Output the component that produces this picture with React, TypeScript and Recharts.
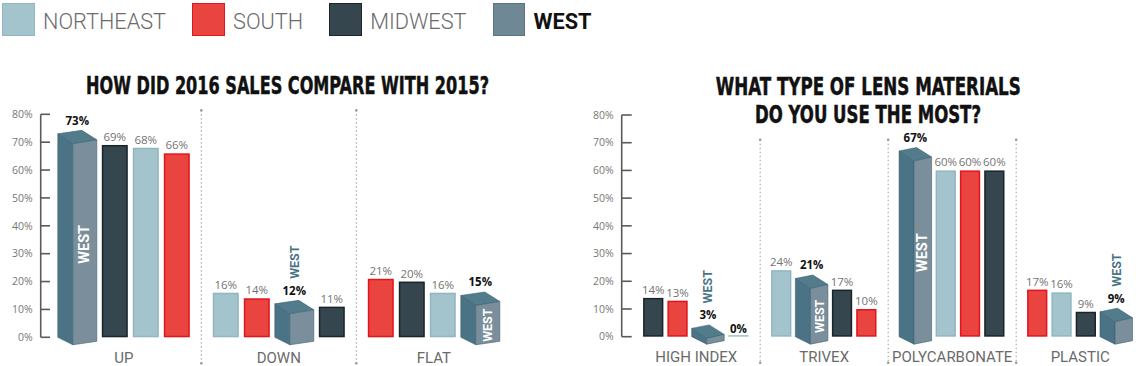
import React from 'react';
import { BarChart, Bar, XAxis, YAxis } from 'recharts';

// ---------- data ----------
const REGIONS = ['NORTHEAST', 'SOUTH', 'MIDWEST', 'WEST'];

const salesCategories = ['UP', 'DOWN', 'FLAT'];
const salesNortheast = [68, 16, 16];
const salesSouth = [66, 14, 21];
const salesMidwest = [69, 11, 20];
const salesWest = [73, 12, 15];

const lensCategories = ['HIGH INDEX', 'TRIVEX', 'POLYCARBONATE', 'PLASTIC'];
const lensNortheast = [0, 24, 60, 16];
const lensSouth = [13, 10, 60, 17];
const lensMidwest = [14, 17, 60, 9];
const lensWest = [3, 21, 67, 9];

const yTicks = [0, 10, 20, 30, 40, 50, 60, 70, 80];

const salesTitle = ['HOW DID 2016 SALES COMPARE WITH 2015?'];
const lensTitle = ['WHAT TYPE OF LENS MATERIALS', 'DO YOU USE THE MOST?'];

// ---------- styles ----------
const COLORS: Record<string, { fill: string; stroke: string }> = {
  NORTHEAST: { fill: '#a3c4cc', stroke: '#90b6bf' },
  SOUTH: { fill: '#e9443f', stroke: '#e2141c' },
  MIDWEST: { fill: '#35464f', stroke: '#1a2429' },
  WEST: { fill: '#6f8896', stroke: '#5b7482' },
};
const BOX = { side: '#4a7385', top: '#527c8c', front: '#7a8f9b', edge: '#3c6070' };
const LABEL_FONT = "'Open Sans', 'DejaVu Sans', sans-serif";
const CAT_FONT = "Roboto, 'Noto Sans', sans-serif";
const TITLE_FONT = "'Liberation Sans Narrow', 'DejaVu Sans Condensed', Roboto, sans-serif";

type Row = Record<string, any>;

function buildRows(categories: string[], series: number[][]): Row[] {
  return categories.map((cat, i) => {
    const entries = REGIONS.map((region, k) => ({ region, value: series[k][i], k }));
    entries.sort((a, b) => b.value - a.value || a.k - b.k);
    const row: Row = { cat };
    entries.forEach((e, s) => {
      row['s' + s] = e.value;
      row['r' + s] = e.region;
      if (e.region === 'WEST') row.westSlot = s;
    });
    return row;
  });
}

const salesRows = buildRows(salesCategories, [salesNortheast, salesSouth, salesMidwest, salesWest]);
const lensRows = buildRows(lensCategories, [lensNortheast, lensSouth, lensMidwest, lensWest]);

type Cfg = { extra: number; sideW: number };

function makeShape(rows: Row[], slot: number, cfg: Cfg) {
  return (props: any) => {
    const { x, y, width, height } = props;
    let index = props.index;
    if (index == null || rows[index] == null) index = rows.findIndex((r) => r.cat === props.payload?.cat);
    const row = rows[index];
    if (!row) return <g />;
    const region = row['r' + slot];
    const value = row['s' + slot];
    const y0 = y + height;
    const yv = y;
    const half = cfg.extra / 2;
    if (region === 'WEST') {
      const L = x - half;
      const R = x + width + half;
      const xf = L + cfg.sideW;
      const bx = L + (R - xf);
      const pts = (arr: number[][]) => arr.map((p) => p.join(',')).join(' ');
      const A = [L, yv], B = [bx, yv - 3.5], C = [R, yv + 6], D = [xf, yv + 10];
      const E = [xf, y0 + 7.5], F = [R, y0 + 4], G = [L, y0];
      const cx = (L + R) / 2;
      const labelY = yv - 9;
      const inside = value >= 15;
      const fcx = (xf + R) / 2;
      const fcy = (D[1] + E[1]) / 2;
      const westSize = value > 50 ? 14.5 : 12.5;
      return (
        <g>
          <polygon points={pts([A, D, E, G])} fill={BOX.side} stroke={BOX.edge} strokeWidth={0.6} />
          <polygon points={pts([A, B, C, D])} fill={BOX.top} stroke={BOX.edge} strokeWidth={0.6} />
          <polygon points={pts([D, C, F, E])} fill={BOX.front} stroke={BOX.edge} strokeWidth={0.6} />
          <text x={cx} y={labelY} textAnchor="middle" fontFamily={LABEL_FONT} fontWeight={700} fontSize={11.5} fill="#111">
            {value + '%'}
          </text>
          {inside ? (
            <text
              x={fcx}
              y={fcy}
              transform={`rotate(-90 ${fcx} ${fcy})`}
              textAnchor="middle"
              dominantBaseline="central"
              fontFamily={CAT_FONT}
              fontWeight={700}
              fontSize={westSize}
              fill="#ffffff"
            >
              WEST
            </text>
          ) : (
            <text
              x={cx}
              y={labelY - 16}
              transform={`rotate(-90 ${cx} ${labelY - 16})`}
              textAnchor="start"
              dominantBaseline="central"
              fontFamily={CAT_FONT}
              fontWeight={700}
              fontSize={12.5}
              fill={BOX.side}
            >
              WEST
            </text>
          )}
        </g>
      );
    }
    const shift = slot < row.westSlot ? -half : half;
    const bx = x + shift;
    const c = COLORS[region];
    const bold = value === 0;
    return (
      <g>
        {height > 0 ? (
          <rect x={bx + 0.75} y={yv + 0.75} width={width - 1.5} height={Math.max(height - 1.5, 0)} fill={c.fill} stroke={c.stroke} strokeWidth={1.5} />
        ) : (
          <rect x={bx} y={y0 - 1.6} width={width} height={1.6} fill={c.fill} />
        )}
        <text
          x={bx + width / 2}
          y={yv - 4}
          textAnchor="middle"
          fontFamily={LABEL_FONT}
          fontWeight={bold ? 700 : 400}
          fontSize={bold ? 11.5 : 11.5}
          fill={bold ? '#111' : '#737373'}
        >
          {value + '%'}
        </text>
      </g>
    );
  };
}

function makeYTick(len: number) {
  return (props: any) => {
    const { x, y, payload } = props;
    return (
      <g>
        <line x1={x + 8} x2={x + 8 + len} y1={y} y2={y} stroke="#5a5a5a" strokeWidth={1.6} />
        <text x={x} y={y} dy="0.36em" textAnchor="end" fontFamily={LABEL_FONT} fontSize={10.5} fill="#777">
          {payload.value + '%'}
        </text>
      </g>
    );
  };
}

function makeXTick(count: number, topOffset: number, halfBand: number) {
  return (props: any) => {
    const { x, y, payload } = props;
    const idx = payload.index ?? 0;
    const off = typeof payload.offset === 'number' && payload.offset > 0 ? payload.offset : halfBand;
    const dx = x + off;
    return (
      <g>
        <text x={x} y={y + 25.2} textAnchor="middle" fontFamily={CAT_FONT} fontSize={15} fill="#6b6b6b">
          {payload.value}
        </text>
        {idx < count - 1 && (
          <g>
            <line x1={dx} x2={dx} y1={y + topOffset} y2={y + 26} stroke="#9a9a9a" strokeWidth={1} strokeDasharray="1.5 2.5" />
            <circle cx={dx} cy={y + topOffset} r={1.3} fill="#9a9a9a" />
            <circle cx={dx} cy={y + 26} r={1.3} fill="#9a9a9a" />
          </g>
        )}
      </g>
    );
  };
}

function Panel(props: {
  rows: Row[];
  width: number;
  yAxisWidth: number;
  top: number;
  xHeight: number;
  padLeft: number;
  right: number;
  barSize: number;
  barGap: number;
  cfg: Cfg;
  tickLen: number;
  dividerTop: number;
  halfBand: number;
}) {
  const p = props;
  return (
    <BarChart
      width={p.width}
      height={366}
      data={p.rows}
      margin={{ top: p.top, right: p.right, bottom: 0, left: 0 }}
      barSize={p.barSize}
      barGap={p.barGap}
    >
      <XAxis
        dataKey="cat"
        type="category"
        axisLine={false}
        tickLine={false}
        tickSize={0}
        tickMargin={0}
        height={p.xHeight}
        padding={{ left: p.padLeft, right: 0 }}
        interval={0}
        tick={makeXTick(p.rows.length, p.dividerTop, p.halfBand)}
      />
      <YAxis
        width={p.yAxisWidth}
        domain={[0, 80]}
        ticks={yTicks}
        interval={0}
        tickLine={false}
        tickSize={0}
        tickMargin={8}
        axisLine={{ stroke: '#5a5a5a', strokeWidth: 1.6 }}
        tick={makeYTick(p.tickLen)}
      />
      {[0, 1, 2, 3].map((slot) => (
        <Bar
          key={slot}
          dataKey={'s' + slot}
          isAnimationActive={false}
          shape={makeShape(p.rows, slot, p.cfg)}
        />
      ))}
    </BarChart>
  );
}

function Legend() {
  return (
    <div style={{ position: 'absolute', left: 2, top: 3, display: 'flex', alignItems: 'center', height: 33 }}>
      {REGIONS.map((r) => (
        <div key={r} style={{ display: 'flex', alignItems: 'center', marginRight: 26 }}>
          <div
            style={{
              width: 32.5,
              height: 33,
              boxSizing: 'border-box',
              background: COLORS[r].fill,
              border: `1.5px solid ${COLORS[r].stroke}`,
            }}
          />
          <span
            style={{
              marginLeft: 8.5,
              fontFamily: CAT_FONT,
              fontSize: 21.7,
              fontWeight: r === 'WEST' ? 700 : 300,
              color: r === 'WEST' ? '#111' : '#6b6b6b',
              lineHeight: '33px',
              position: 'relative',
              top: 1.5,
            }}
          >
            {r}
          </span>
        </div>
      ))}
    </div>
  );
}

function Titles() {
  const common = {
    textAnchor: 'middle' as const,
    fontFamily: TITLE_FONT,
    fontWeight: 700,
    fontSize: 25,
    fill: '#111',
    stroke: '#111',
    strokeWidth: 0.5,
    lengthAdjust: 'spacingAndGlyphs' as const,
  };
  return (
    <svg width={1136} height={366} style={{ position: 'absolute', left: 0, top: 0, pointerEvents: 'none' }}>
      <text x={287.5} y={94} textLength={403} {...common}>
        {salesTitle[0]}
      </text>
      <text x={868.3} y={95} textLength={305} {...common}>
        {lensTitle[0]}
      </text>
      <text x={868} y={123} textLength={226} {...common}>
        {lensTitle[1]}
      </text>
    </svg>
  );
}

export default function App() {
  return (
    <div style={{ position: 'absolute', left: 0, top: 0, width: 1136, height: 366, overflow: 'hidden', background: '#fff' }}>
      <Legend />
      <Titles />
      <div style={{ position: 'absolute', left: 0, top: 0 }}>
        <Panel
          rows={salesRows}
          width={520}
          yAxisWidth={40.7}
          top={114.3}
          xHeight={28.7}
          padLeft={5.6}
          right={8.7}
          barSize={26}
          barGap={5}
          cfg={{ extra: 13, sideW: 15 }}
          tickLen={9.3}
          dividerTop={-227}
          halfBand={77.5}
        />
      </div>
      <div style={{ position: 'absolute', left: 560, top: 0 }}>
        <Panel
          rows={lensRows}
          width={584.2}
          yAxisWidth={61.7}
          top={115}
          xHeight={29.3}
          padLeft={10.5}
          right={0}
          barSize={20.3}
          barGap={4}
          cfg={{ extra: 12.2, sideW: 15 }}
          tickLen={10}
          dividerTop={-197}
          halfBand={64}
        />
      </div>
    </div>
  );
}
